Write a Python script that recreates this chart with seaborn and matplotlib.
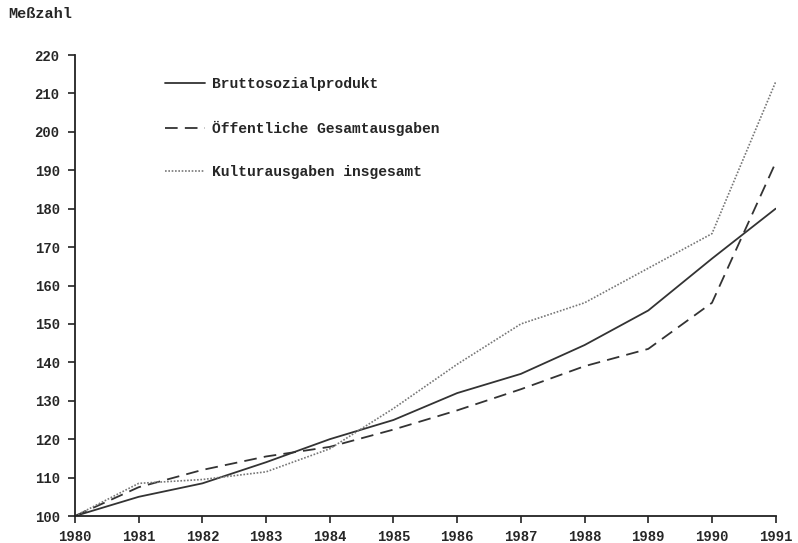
import pandas as pd
import numpy as np
import matplotlib
matplotlib.use("Agg")
import matplotlib.pyplot as plt
import seaborn as sns

# data (Meßzahl, 1980 = 100)
years = [1980, 1981, 1982, 1983, 1984, 1985, 1986, 1987, 1988, 1989, 1990, 1991]
brutto = [100, 105, 108.5, 114, 120, 125, 132, 137, 144.5, 153.5, 167, 180]
oeffentlich = [100, 107.5, 112, 115.5, 118, 122.5, 127.5, 133, 139, 143.5, 155.5, 192]
kultur = [100, 108.5, 109.5, 111.5, 117.5, 128, 139.5, 150, 155.5, 164.5, 173.5, 213]
labels = ["Bruttosozialprodukt", "Öffentliche Gesamtausgaben", "Kulturausgaben insgesamt"]

df = pd.DataFrame({"Jahr": years, labels[0]: brutto, labels[1]: oeffentlich, labels[2]: kultur})
df = df.melt(id_vars="Jahr", var_name="Reihe", value_name="Wert")

sns.set_style("white")
plt.rcParams['font.family'] = ['Liberation Mono', 'DejaVu Sans']
plt.rcParams['font.weight'] = 'bold'

fig = plt.figure(figsize=(7.98, 5.43), dpi=100)
ax = fig.add_axes([0.094, 0.0497, 0.878, 0.849])

styles = {labels[0]: ("-", "#333333", 1.3),
          labels[1]: ((0, (7, 4)), "#333333", 1.3),
          labels[2]: ((0, (1, 1)), "#777777", 1.2)}
for name in labels:
    ls, col, lw = styles[name]
    sns.lineplot(data=df[df["Reihe"] == name], x="Jahr", y="Wert", ax=ax,
                 color=col, linestyle=ls, linewidth=lw, label=name)

ax.set_xlim(1980, 1991)
ax.set_ylim(100, 220)
ax.set_xticks(years)
ax.set_yticks(np.arange(100, 221, 10))
ax.tick_params(axis="both", labelsize=10, length=5, width=1.2, direction="out",
               bottom=True, left=True, color="#222222")
ax.tick_params(axis="x", pad=5)
ax.tick_params(axis="y", pad=6)
for lab in ax.get_xticklabels() + ax.get_yticklabels():
    lab.set_fontweight("bold")
ax.set_xlabel("")
ax.set_ylabel("")
sns.despine(ax=ax)
for s in ["left", "bottom"]:
    ax.spines[s].set_color("#222222")
    ax.spines[s].set_linewidth(1.3)

fig.text(0.01, 0.975, "Meßzahl", fontsize=11, fontweight="bold", va="center")

leg = ax.legend(loc="upper left", bbox_to_anchor=(0.11, 0.98), frameon=False,
                fontsize=10.5, labelspacing=2.0, handlelength=2.7, handletextpad=0.5)
for t in leg.get_texts():
    t.set_fontweight("bold")

fig.savefig("out.png", dpi=100)
